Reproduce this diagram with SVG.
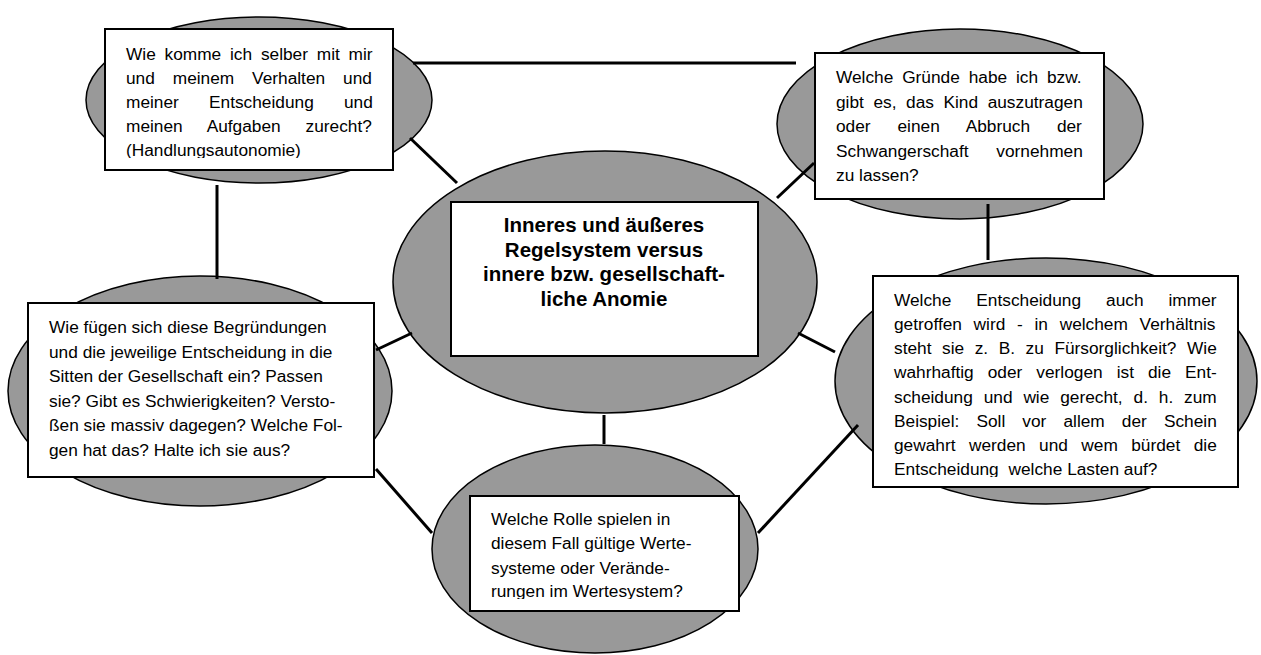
<svg xmlns="http://www.w3.org/2000/svg" width="1261" height="655" viewBox="0 0 1261 655">
<style>
.ell{fill:#999999;stroke:#000;stroke-width:1.5}
.box{fill:#fff;stroke:#000;stroke-width:2}
.t{font-family:"Liberation Sans",Arial,sans-serif;font-size:17.3px;fill:#000}
.b{font-family:"Liberation Sans",Arial,sans-serif;font-size:20.5px;font-weight:bold;fill:#000;text-anchor:middle}
.con line{stroke:#000;stroke-width:3}
</style>
<defs>
<clipPath id="cTL"><rect x="105" y="29" width="288" height="129"/></clipPath>
<clipPath id="cR"><rect x="873" y="276" width="365" height="201"/></clipPath>
<clipPath id="cB"><rect x="470" y="496" width="269" height="103"/></clipPath>
</defs>
<rect width="1261" height="655" fill="#fff"/>

<g id="node-topleft">
<ellipse class="ell" cx="259" cy="100" rx="173" ry="83"/>
<rect class="box" x="105" y="29" width="288" height="141"/>
<g class="t" clip-path="url(#cTL)">
<text x="126" y="60" style="word-spacing:4.0px">Wie komme ich selber mit mir</text>
<text x="126" y="84" style="word-spacing:13.1px">und meinem Verhalten und</text>
<text x="126" y="108" style="word-spacing:25.4px">meiner Entscheidung und</text>
<text x="126" y="132" style="word-spacing:20.1px">meinen Aufgaben zurecht?</text>
<text x="126" y="156">(Handlungsautonomie)</text>
</g>
</g>

<g id="node-topright">
<ellipse class="ell" cx="960" cy="124" rx="183" ry="95"/>
<rect class="box" x="815" y="53" width="289" height="146"/>
<g class="t">
<text x="836" y="83" style="word-spacing:4.06px">Welche Gründe habe ich bzw.</text>
<text x="836" y="107.5" style="word-spacing:4.77px">gibt es, das Kind auszutragen</text>
<text x="836" y="132" style="word-spacing:22.07px">oder einen Abbruch der</text>
<text x="836" y="156.5" style="word-spacing:22.96px">Schwangerschaft vornehmen</text>
<text x="836" y="181">zu lassen?</text>
</g>
</g>

<g id="node-center">
<ellipse class="ell" cx="605" cy="282" rx="212" ry="131"/>
<rect class="box" x="451" y="202" width="307" height="154"/>
<g class="b">
<text x="604" y="232">Inneres und äußeres</text>
<text x="604" y="256.5">Regelsystem versus</text>
<text x="604" y="281">innere bzw. gesellschaft-</text>
<text x="604" y="305.5">liche Anomie</text>
</g>
</g>

<g id="node-left">
<ellipse class="ell" cx="200" cy="391" rx="192" ry="115"/>
<rect class="box" x="28" y="303" width="346" height="174"/>
<g class="t">
<text x="49" y="333">Wie fügen sich diese Begründungen</text>
<text x="49" y="357.5">und die jeweilige Entscheidung in die</text>
<text x="49" y="382">Sitten der Gesellschaft ein? Passen</text>
<text x="49" y="406.5">sie? Gibt es Schwierigkeiten? Versto-</text>
<text x="49" y="431">ßen sie massiv dagegen? Welche Fol-</text>
<text x="49" y="455.5">gen hat das? Halte ich sie aus?</text>
</g>
</g>

<g id="node-right">
<ellipse class="ell" cx="1046" cy="381" rx="211" ry="123"/>
<rect class="box" x="873" y="276" width="365" height="211"/>
<g class="t" clip-path="url(#cR)">
<text x="894" y="306" style="word-spacing:20.2px">Welche Entscheidung auch immer</text>
<text x="894" y="330.1" style="word-spacing:6.92px">getroffen wird - in welchem Verhältnis</text>
<text x="894" y="354.3" style="word-spacing:5.77px">steht sie z. B. zu Fürsorglichkeit? Wie</text>
<text x="894" y="378.4" style="word-spacing:9.22px">wahrhaftig oder verlogen ist die Ent-</text>
<text x="894" y="402.6" style="word-spacing:6.08px">scheidung und wie gerecht, d. h. zum</text>
<text x="894" y="426.7" style="word-spacing:12.3px">Beispiel: Soll vor allem der Schein</text>
<text x="894" y="450.9" style="word-spacing:8.64px">gewahrt werden und wem bürdet die</text>
<text x="894" y="475">Entscheidung <tspan dx="5">welche Lasten auf?</tspan></text>
</g>
</g>

<g id="node-bottom">
<ellipse class="ell" cx="595" cy="549" rx="163" ry="104"/>
<rect class="box" x="470" y="496" width="269" height="115"/>
<g class="t" clip-path="url(#cB)">
<text x="491" y="525">Welche Rolle spielen in</text>
<text x="491" y="549">diesem Fall gültige Werte-</text>
<text x="491" y="573.5">systeme oder Verände-</text>
<text x="491" y="597">rungen im Wertesystem?</text>
</g>
</g>

<g id="connectors" class="con">
<line x1="413" y1="63" x2="796" y2="63"/>
<line x1="410" y1="138" x2="457" y2="183"/>
<line x1="217" y1="185" x2="217" y2="279"/>
<line x1="777" y1="198" x2="814" y2="163"/>
<line x1="988" y1="204" x2="988" y2="260"/>
<line x1="798" y1="333" x2="835" y2="352"/>
<line x1="858" y1="425" x2="758" y2="533"/>
<line x1="604" y1="415" x2="604" y2="444"/>
<line x1="376" y1="469" x2="432" y2="533"/>
<line x1="376" y1="350" x2="412" y2="333"/>
</g>
</svg>
